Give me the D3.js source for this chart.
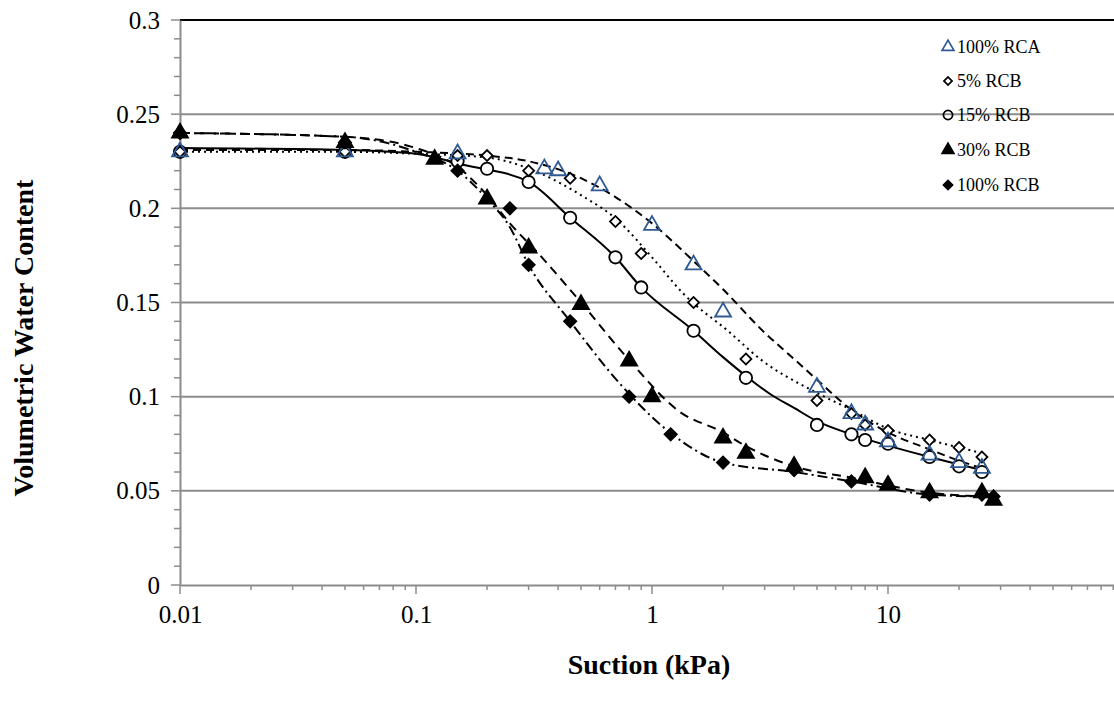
<!DOCTYPE html>
<html><head><meta charset="utf-8">
<script src="https://cdn.jsdelivr.net/npm/d3@7"></script>
<style>body{margin:0;background:#fff}svg{display:block}</style>
</head><body>
<script>
// ---- data ----
const seriesNames = ["100% RCA","5% RCB","15% RCB","30% RCB","100% RCB"];

const rcaX = [0.01,0.05,0.15,0.35,0.4,0.6,1,1.5,2,5,7,8,10,15,20,25];
const rcaY = [0.23,0.23,0.229,0.221,0.22,0.212,0.191,0.17,0.145,0.105,0.091,0.085,0.076,0.069,0.065,0.062];

const rcb5X = [0.01,0.05,0.15,0.2,0.3,0.45,0.7,0.9,1.5,2.5,5,7,8,10,15,20,25];
const rcb5Y = [0.23,0.23,0.228,0.228,0.22,0.216,0.193,0.176,0.15,0.12,0.098,0.091,0.085,0.082,0.077,0.073,0.068];

const rcb15X = [0.01,0.05,0.15,0.2,0.3,0.45,0.7,0.9,1.5,2.5,5,7,8,10,15,20,25];
const rcb15Y = [0.23,0.23,0.225,0.221,0.214,0.195,0.174,0.158,0.135,0.11,0.085,0.08,0.077,0.075,0.068,0.063,0.06];

const rcb30X = [0.01,0.05,0.12,0.2,0.3,0.5,0.8,1,2,2.5,4,8,10,15,25,28];
const rcb30Y = [0.24,0.235,0.226,0.205,0.179,0.149,0.119,0.1,0.078,0.07,0.063,0.057,0.053,0.049,0.049,0.045];

const rcb100X = [0.01,0.05,0.15,0.25,0.3,0.45,0.8,1.2,2,4,7,15,25,28];
const rcb100Y = [0.24,0.235,0.22,0.2,0.17,0.14,0.1,0.08,0.065,0.061,0.055,0.048,0.048,0.047];

// fitted curves, points
const fitRcaX = [0.01,0.05,0.1,0.2,0.3,0.5,0.7,1,1.5,2,3,4,5,7,10,15,20,25];
const fitRcaY = [0.231,0.231,0.23,0.228,0.225,0.216,0.206,0.192,0.172,0.157,0.134,0.12,0.109,0.093,0.081,0.072,0.066,0.062];

const fit5X = [0.01,0.05,0.1,0.2,0.33,0.5,0.71,1,1.35,2.14,2.87,5,7,10,15,20,25];
const fit5Y = [0.23,0.23,0.229,0.227,0.219,0.207,0.194,0.174,0.155,0.134,0.12,0.102,0.093,0.083,0.077,0.073,0.07];

const fit15X = [0.01,0.05,0.1,0.16,0.3,0.45,0.7,0.9,1.5,2,2.5,3.2,4,5,7,10,15,20,25];
const fit15Y = [0.232,0.231,0.229,0.223,0.214,0.195,0.174,0.158,0.135,0.121,0.111,0.101,0.094,0.087,0.080,0.074,0.068,0.064,0.061];

const fit30X = [0.01,0.05,0.1,0.15,0.2,0.25,0.33,0.5,0.78,1.31,2,2.48,4,7,15,25];
const fit30Y = [0.24,0.238,0.232,0.222,0.207,0.192,0.176,0.15,0.121,0.092,0.081,0.074,0.063,0.057,0.049,0.047];

const fit100X = [0.01,0.05,0.1,0.15,0.2,0.25,0.3,0.45,0.73,1.19,2,4,7,15,25];
const fit100Y = [0.24,0.238,0.23,0.22,0.205,0.19,0.17,0.14,0.107,0.081,0.065,0.06,0.055,0.048,0.047];

const yTicks = [0,0.05,0.1,0.15,0.2,0.25,0.3];
const xTicks = [0.01,0.1,1,10];
const xTitle = "Suction (kPa)";
const yTitle = "Volumetric Water Content";

// ---- drawing ----
const W = 1114, H = 706;
const svg = d3.select("body").append("svg").attr("width", W).attr("height", H);
const x = d3.scaleLog().domain([0.01, 100]).range([180, 1124]);
const y = d3.scaleLinear().domain([0, 0.3]).range([585, 20]);
const FONT = "'Liberation Serif', 'DejaVu Serif', serif";
const gridCol = "#8c8c8c";

// gridlines
svg.append("g").selectAll("line").data(yTicks.filter(d => d > 0)).join("line")
  .attr("x1", 180).attr("x2", W).attr("y1", d => y(d)).attr("y2", d => y(d))
  .attr("stroke", d => d === 0.3 ? "#000" : gridCol).attr("stroke-width", 2);

// y minor ticks
const yMinor = d3.range(0, 31).map(i => i / 100);
svg.append("g").selectAll("line").data(yMinor).join("line")
  .attr("x1", d => (Math.round(d*100) % 5 === 0) ? 171 : 174).attr("x2", 180)
  .attr("y1", d => y(d)).attr("y2", d => y(d)).attr("stroke", gridCol).attr("stroke-width", 1.5);
// y axis
const yAxis = d3.axisLeft(y).tickValues(yTicks).tickFormat(d3.format("")).tickSize(0).tickPadding(20);
const gy = svg.append("g").attr("transform", "translate(180,0)").call(yAxis);
gy.select(".domain").attr("stroke", gridCol).attr("stroke-width", 2);
gy.selectAll("text").attr("font-family", FONT).attr("font-size", 25).attr("fill", "#000");

// x minor ticks
const xMinor = [];
for (let e = -2; e <= 1; e++) for (let m = 1; m <= 9; m++) xMinor.push(m * Math.pow(10, e));
xMinor.push(100);
svg.append("g").selectAll("line").data(xMinor.filter(d => x(d) <= W)).join("line")
  .attr("x1", d => x(d)).attr("x2", d => x(d)).attr("y1", 585)
  .attr("y2", d => xTicks.includes(d) ? 594 : 590).attr("stroke", gridCol).attr("stroke-width", 1.5);
const xAxis = d3.axisBottom(x).tickValues(xTicks).tickFormat(d => String(d)).tickSize(0).tickPadding(20);
const gx = svg.append("g").attr("transform", "translate(0,585)").call(xAxis);
gx.select(".domain").attr("stroke", gridCol).attr("stroke-width", 2);
gx.selectAll("text").attr("font-family", FONT).attr("font-size", 25).attr("fill", "#000");

// titles
svg.append("text").attr("x", 649).attr("y", 674).attr("text-anchor", "middle")
  .attr("font-family", FONT).attr("font-weight", "bold").attr("font-size", 28).text(xTitle);
svg.append("text").attr("transform", "translate(33,338) rotate(-90)").attr("text-anchor", "middle")
  .attr("font-family", FONT).attr("font-weight", "bold").attr("font-size", 28).text(yTitle);

// curves
const fits = [
  {xs: fitRcaX, ys: fitRcaY, dash: "8,5"},
  {xs: fit5X, ys: fit5Y, dash: "2,4"},
  {xs: fit15X, ys: fit15Y, dash: null},
  {xs: fit30X, ys: fit30Y, dash: "9,6"},
  {xs: fit100X, ys: fit100Y, dash: "10,4,2,4"}
];
const line = d3.line().x(d => x(d[0])).y(d => y(d[1])).curve(d3.curveMonotoneX);
fits.forEach(f => {
  svg.append("path").datum(f.xs.map((v, i) => [v, f.ys[i]]))
    .attr("d", line).attr("fill", "none").attr("stroke", "#000").attr("stroke-width", 2)
    .attr("stroke-dasharray", f.dash);
});

// markers
const blue = "#2F5A94";
const styles = [
  {type: d3.symbolTriangle, size: 110, rot: 0, fill: "none", stroke: blue},
  {type: d3.symbolSquare, size: 60, rot: 45, fill: "#fff", stroke: "#000"},
  {type: d3.symbolCircle, size: 120, rot: 0, fill: "#fff", stroke: "#000"},
  {type: d3.symbolTriangle, size: 110, rot: 0, fill: "#000", stroke: "#000"},
  {type: d3.symbolSquare, size: 75, rot: 45, fill: "#000", stroke: "#000"}
];
const pts = [[rcaX, rcaY],[rcb5X, rcb5Y],[rcb15X, rcb15Y],[rcb30X, rcb30Y],[rcb100X, rcb100Y]];
const order = [2, 1, 0, 3, 4];
order.forEach(k => {
  const s = styles[k];
  const data = pts[k][0].map((v, i) => [v, pts[k][1][i]]);
  svg.append("g").selectAll("path").data(data).join("path")
    .attr("transform", d => `translate(${x(d[0])},${y(d[1])}) rotate(${s.rot})`)
    .attr("d", d3.symbol().type(s.type).size(s.size))
    .attr("fill", s.fill).attr("stroke", s.stroke).attr("stroke-width", 1.8);
});

// legend
const lg = svg.append("g");
const legendY = [47, 81, 115, 150, 185];
seriesNames.forEach((name, i) => {
  const s = styles[i];
  const ly = legendY[i];
  lg.append("path").attr("transform", `translate(948,${ly}) rotate(${s.rot})`)
    .attr("d", d3.symbol().type(s.type).size(s.size * 0.55))
    .attr("fill", s.fill === "#fff" ? "none" : s.fill).attr("stroke", s.stroke).attr("stroke-width", 1.7);
  lg.append("text").attr("x", 957).attr("y", ly + 6).attr("font-family", FONT)
    .attr("font-size", 18).text(name);
});
</script>
</body></html>
